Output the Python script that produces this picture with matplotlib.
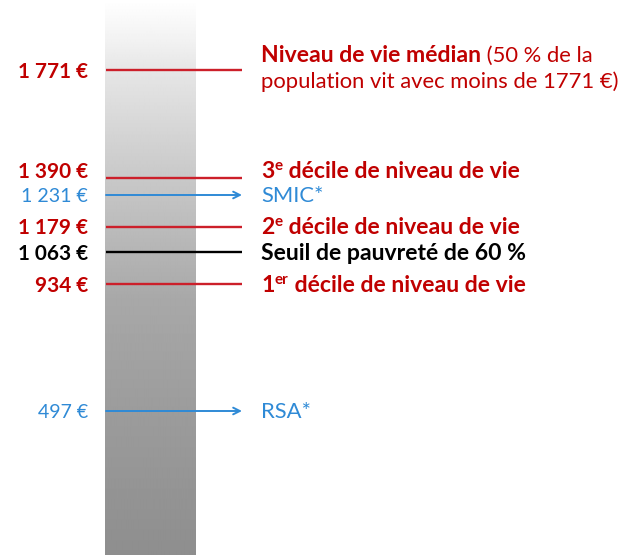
import numpy as np
import matplotlib
matplotlib.use('Agg')
import matplotlib.pyplot as plt
from matplotlib.transforms import IdentityTransform

# ---------------- data ----------------
values = [1771, 1390, 1231, 1179, 1063, 934, 497]
value_labels = ['1 771 €', '1 390 €', '1 231 €', '1 179 €', '1 063 €', '934 €', '497 €']
kinds = ['median', 'decile', 'smic', 'decile', 'seuil', 'decile', 'rsa']
right_labels = [
    [[('Niveau de vie médian', 'bold', 0), (' (50 % de la', 'normal', 0)],
     [('population vit avec moins de 1771 €)', 'normal', 0)]],
    [[('3', 'bold', 0), ('e', 'bold', 1), (' décile de niveau de vie', 'bold', 0)]],
    [[('SMIC*', 'normal', 0)]],
    [[('2', 'bold', 0), ('e', 'bold', 1), (' décile de niveau de vie', 'bold', 0)]],
    [[('Seuil de pauvreté de 60 %', 'bold', 0)]],
    [[('1', 'bold', 0), ('er', 'bold', 1), (' décile de niveau de vie', 'bold', 0)]],
    [[('RSA*', 'normal', 0)]],
]

# ------------- styles / layout -------------
W, H, DPI = 627, 555, 100
RED_TXT = '#c00000'
RED_LINE = '#cc1f2a'
BLUE = '#2f8ad6'
BLACK = '#000000'
FONT = 'Lato'

style = {
    'median': (RED_TXT, RED_LINE, 'bold', False),
    'decile': (RED_TXT, RED_LINE, 'bold', False),
    'smic': (BLUE, BLUE, 'normal', True),
    'rsa': (BLUE, BLUE, 'normal', True),
    'seuil': (BLACK, BLACK, 'bold', False),
}
# vertical text shift (px, upward) per level, to avoid crowding
text_shift = [0, 8, 0, 0, 0, 0, 0]

# schematic (non-linear) vertical scale: value -> pixel from bottom
anchor_vals = [0, 497, 934, 1063, 1179, 1231, 1390, 1771, 2020]
anchor_pos = [0, 144, 271, 303, 328, 360, 377, 485, 555]


def fwd(v):
    return np.interp(v, anchor_vals, anchor_pos)


def inv(p):
    return np.interp(p, anchor_pos, anchor_vals)


fig = plt.figure(figsize=(W / DPI, H / DPI), dpi=DPI)
r = fig.canvas.get_renderer()


def fit_size(txt, weight, target_px):
    t = fig.text(0, 0, txt, fontsize=10, fontweight=weight, family=FONT)
    w = t.get_window_extent(renderer=r).width
    t.remove()
    return 10 * target_px / w


FS_RB = fit_size('Seuil de pauvreté de 60 %', 'bold', 266)
FS_RN = fit_size('population vit avec moins de 1771 €)', 'normal', 358)
FS_LB = fit_size('1 771 €', 'bold', 70)
FS_LN = fit_size('1 231 €', 'normal', 67)
SIZES = {('L', 'bold'): FS_LB, ('L', 'normal'): FS_LN,
         ('R', 'bold'): FS_RB, ('R', 'normal'): FS_RN}

# background gradient bar (pixel coordinates)
bg = fig.add_axes([0, 0, 1, 1])
bg.set_xlim(0, W)
bg.set_ylim(H, 0)
bg.axis('off')
grad_y = [0, 40, 70, 150, 300, 410, 555]
grad_v = [255, 242, 230, 208, 168, 156, 142]
yy = np.arange(H)
gvals = np.interp(yy, grad_y, grad_v) / 255.0
img = np.repeat(gvals[:, None], 2, axis=1)
bg.imshow(img, cmap='gray', vmin=0, vmax=1, extent=[105, 196, H, 0], aspect='auto',
          interpolation='bilinear')

ax = fig.add_axes([0, 0, 1, 1])
ax.patch.set_alpha(0)
ax.set_xlim(0, W)
ax.set_yscale('function', functions=(fwd, inv))
ax.set_ylim(0, 2020)
ax.axis('off')

X_LINE0, X_LINE1 = 106, 242
X_LEFT, X_RIGHT = 88, 261

for v, lab, kind in zip(values, value_labels, kinds):
    tcol, lcol, wt, arrow = style[kind]
    if arrow:
        ax.annotate('', xy=(X_LINE1, v), xytext=(X_LINE0, v),
                    arrowprops=dict(arrowstyle='->', color=lcol, lw=1.4,
                                    shrinkA=0, shrinkB=0, mutation_scale=12))
    else:
        ax.plot([X_LINE0, X_LINE1], [v, v], color=lcol, lw=1.7, solid_capstyle='butt')

fig.canvas.draw()

BASE_OFF = 7.5  # px from line to baseline
for v, lab, kind, rl, sh in zip(values, value_labels, kinds, right_labels, text_shift):
    tcol, lcol, wt, arrow = style[kind]
    x0, y0 = ax.transData.transform((X_LEFT, v))
    fig.text(x0, y0 - BASE_OFF + sh, lab, transform=IdentityTransform(), ha='right',
             va='baseline', fontsize=SIZES[('L', wt)], fontweight=wt, color=tcol,
             family=FONT)
    xr, yr = ax.transData.transform((X_RIGHT, v))
    nlines = len(rl)
    for li, line in enumerate(rl):
        if nlines == 2:
            base = yr + 8 - li * 26
        else:
            base = yr - BASE_OFF + sh
        cur = xr
        for txt, pw, sup in line:
            fs = SIZES[('R', pw)]
            if sup:
                fs *= 0.66
            dy = 8 if sup else 0
            t = fig.text(cur, base + dy, txt, transform=IdentityTransform(), ha='left',
                         va='baseline', fontsize=fs, fontweight=pw, color=tcol, family=FONT)
            bb = t.get_window_extent(renderer=r)
            cur = bb.x1 + (0.5 if sup else 0)

fig.savefig('out.png', dpi=DPI)
